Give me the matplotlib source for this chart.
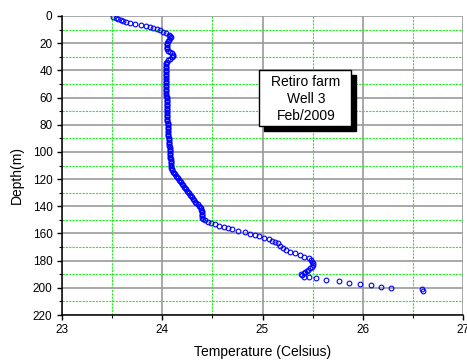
import matplotlib
matplotlib.use("Agg")
import matplotlib.pyplot as plt
from matplotlib.patches import Rectangle
from matplotlib.ticker import MultipleLocator

plt.rcParams['font.family'] = ['Liberation Sans', 'DejaVu Sans']

# ---- data: temperature (Celsius) vs depth (m) ----
depth_top = [1.0, 1.7, 2.2, 2.9, 3.7, 4.4, 5.2, 5.9, 6.6, 7.4, 8.1, 8.8, 9.6, 10.5, 11.5, 12.7, 13.8]
temp_top = [23.51, 23.54, 23.56, 23.59, 23.61, 23.64, 23.68, 23.73, 23.79, 23.84, 23.88, 23.91, 23.95, 23.98, 24.01, 24.04, 24.07]

depth_mid = [14.5, 15.5, 16.5, 17.5, 18.5, 19.5, 20.5, 21.5, 22.5, 23.5, 24.5, 25.5, 26.5, 27.5, 28.5, 29.5,
             30.5, 31.5, 32.5, 33.5, 34.5, 35.5, 36.5, 37.5, 38.5, 39.5, 40.5, 41.5, 42.5, 43.5, 44.5, 45.5,
             46.5, 47.5, 48.5, 49.5, 50.5, 51.5, 52.5, 53.5, 54.5, 55.5, 56.5, 57.5, 58.5, 59.5, 60.5, 61.5,
             62.5, 63.5, 64.5, 65.5, 66.5, 67.5, 68.5, 69.5, 70.5, 71.5, 72.5, 73.5, 74.5, 75.5, 76.5, 77.5,
             78.5, 79.5, 80.5, 81.5, 82.5, 83.5, 84.5, 85.5, 86.5, 87.5, 88.5, 89.5, 90.5, 91.5, 92.5, 93.5,
             94.5, 95.5, 96.5, 97.5, 98.5, 99.5, 100.5, 101.5, 102.5, 103.5, 104.5, 105.5, 106.5, 107.5,
             108.5, 109.5, 110.5, 111.5, 112.5, 113.5, 114.5, 115.5, 116.5, 117.5, 118.5, 119.5, 120.5,
             121.5, 122.5, 123.5, 124.5, 125.5, 126.5, 127.5, 128.5, 129.5, 130.5, 131.5, 132.5, 133.5,
             134.5, 135.5, 136.5, 137.5, 138.5, 139.5, 140.5, 141.5, 142.5, 143.5, 144.5, 145.5, 146.5,
             147.5, 148.5, 149.5, 150.4]
temp_mid = [24.08, 24.09, 24.08, 24.07, 24.06, 24.05, 24.05, 24.05, 24.05, 24.05, 24.05, 24.06, 24.08, 24.10, 24.11, 24.11,
            24.10, 24.08, 24.06, 24.05, 24.04, 24.04, 24.04, 24.04, 24.04, 24.04, 24.04, 24.04, 24.04, 24.04, 24.04, 24.04,
            24.04, 24.04, 24.04, 24.04, 24.04, 24.04, 24.04, 24.04, 24.04, 24.04, 24.04, 24.04, 24.04, 24.045, 24.045, 24.05,
            24.05, 24.05, 24.05, 24.05, 24.05, 24.05, 24.05, 24.05, 24.05, 24.05, 24.05, 24.05, 24.05, 24.05, 24.05, 24.05,
            24.055, 24.055, 24.055, 24.055, 24.055, 24.06, 24.06, 24.06, 24.06, 24.06, 24.06, 24.065, 24.065, 24.065, 24.07, 24.07,
            24.07, 24.07, 24.075, 24.075, 24.075, 24.075, 24.08, 24.08, 24.08, 24.08, 24.08, 24.085, 24.085, 24.085,
            24.085, 24.09, 24.09, 24.09, 24.095, 24.10, 24.11, 24.12, 24.13, 24.14, 24.15, 24.16, 24.17,
            24.18, 24.19, 24.20, 24.21, 24.22, 24.23, 24.24, 24.25, 24.26, 24.27, 24.28, 24.29, 24.30,
            24.31, 24.32, 24.33, 24.34, 24.355, 24.365, 24.375, 24.385, 24.39, 24.395, 24.40, 24.40, 24.40,
            24.40, 24.40, 24.41, 24.43]

depth_bot = [151.3, 152.1, 153.1, 154.3, 155.5, 156.2, 157.0, 158.0, 159.2, 160.4, 161.2, 162.2, 163.1, 164.3, 165.3,
             166.5, 167.3, 169.0, 170.9, 172.2, 173.4, 174.6, 175.9, 177.1, 178.3, 179.5, 180.8, 182.0, 183.2, 184.5,
             185.7, 186.6, 187.4, 188.2, 188.9, 189.8, 190.8, 191.8, 192.3, 193.0, 194.3, 195.2, 196.2, 197.2, 198.2,
             199.2, 199.9, 201.1, 202.1]
temp_bot = [24.46, 24.49, 24.53, 24.57, 24.62, 24.66, 24.70, 24.76, 24.83, 24.88, 24.93, 24.97, 25.01, 25.06, 25.09,
            25.12, 25.15, 25.17, 25.20, 25.23, 25.27, 25.32, 25.37, 25.41, 25.46, 25.48, 25.49, 25.50, 25.50, 25.49,
            25.47, 25.45, 25.44, 25.42, 25.41, 25.38, 25.39, 25.41, 25.46, 25.53, 25.63, 25.76, 25.86, 25.97, 26.08,
            26.18, 26.28, 26.59, 26.60]

depth = depth_top + depth_mid + depth_bot
temp = temp_top + temp_mid + temp_bot

x_ticks = [23, 24, 25, 26, 27]
y_ticks = [0, 20, 40, 60, 80, 100, 120, 140, 160, 180, 200, 220]
note = "Retiro farm\nWell 3\nFeb/2009"

W, H = 467, 360
fig = plt.figure(figsize=(W / 100, H / 100), dpi=100)
ax = fig.add_axes([62 / W, 1 - 315 / H, (463 - 62) / W, (315 - 16) / H])

ax.set_xlim(23, 27)
ax.set_ylim(220, 0)
ax.set_xticks(x_ticks)
ax.set_yticks(y_ticks)
ax.xaxis.set_minor_locator(MultipleLocator(0.5))
ax.yaxis.set_minor_locator(MultipleLocator(10))

ax.set_axisbelow(True)
ax.grid(which='major', color='#9a9a9a', linewidth=1.2, linestyle='-')
ax.grid(which='minor', color='#22ee22', linewidth=0.8, linestyle=(0, (2, 1)))

ax.plot(temp, depth, linestyle='none', marker='o', markersize=3.4,
        markerfacecolor='none', markeredgecolor='#0000ff', markeredgewidth=0.8, zorder=3)

for s in ['top', 'right']:
    ax.spines[s].set_visible(False)
for s in ['left', 'bottom']:
    ax.spines[s].set_linewidth(1.1)
    ax.spines[s].set_color('black')

ax.tick_params(which='major', direction='out', length=3.6, width=1, labelsize=8.5, pad=3.2)
ax.tick_params(which='minor', direction='out', length=2, width=0.8)

ax.set_xlabel('Temperature (Celsius)', fontsize=10, labelpad=6)
ax.set_ylabel('Depth(m)', fontsize=10)
ax.yaxis.set_label_coords(-0.095, 0.468)

# annotation box with drop shadow
bx0, bx1, by0, by1 = 259, 351, 70, 126
sh = 5
fig.patches.append(Rectangle(((bx0 + sh) / W, 1 - (by1 + sh) / H), (bx1 - bx0) / W, (by1 - by0) / H,
                             transform=fig.transFigure, facecolor='black', edgecolor='black', zorder=5))
fig.patches.append(Rectangle((bx0 / W, 1 - by1 / H), (bx1 - bx0) / W, (by1 - by0) / H,
                             transform=fig.transFigure, facecolor='white', edgecolor='black',
                             linewidth=1, zorder=6))
fig.text(306 / W, 1 - 99 / H, note, ha='center', va='center', fontsize=10,
         linespacing=1.25, zorder=7)

fig.savefig('out.png', dpi=100)
